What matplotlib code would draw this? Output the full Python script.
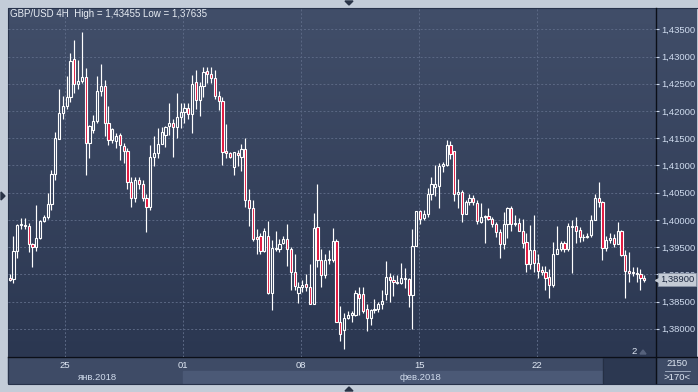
import numpy as np
import matplotlib.pyplot as plt
from matplotlib.patches import Rectangle, Polygon
from matplotlib.colors import LinearSegmentedColormap
from matplotlib.transforms import blended_transform_factory

plt.rcParams['font.family'] = ['Liberation Sans', 'DejaVu Sans']

# свечи GBP/USD 4H (открытие, максимум, минимум, закрытие)
opens = [1.3893, 1.3892, 1.3942, 1.3990, 1.3989, 1.3988, 1.3955, 1.3950, 1.3966, 1.3997,
         1.4005, 1.4029, 1.4084, 1.4148, 1.4197, 1.4209, 1.4225, 1.4295, 1.4250, 1.4255,
         1.4262, 1.4142, 1.4165, 1.4181, 1.4237, 1.4245, 1.4177, 1.4146, 1.4145, 1.4155,
         1.4136, 1.4126, 1.4070, 1.4041, 1.4074, 1.4065, 1.4041, 1.4024, 1.4115, 1.4122,
         1.4140, 1.4156, 1.4172, 1.4177, 1.4171, 1.4188, 1.4198, 1.4205, 1.4194, 1.4254,
         1.4221, 1.4246, 1.4273, 1.4267, 1.4260, 1.4228, 1.4218, 1.4126, 1.4123, 1.4097,
         1.4123, 1.4116, 1.4131, 1.4037, 1.4021, 1.3969, 1.3970, 1.3942, 1.3971, 1.3865,
         1.3946, 1.3946, 1.3957, 1.3965, 1.3946, 1.3904, 1.3865, 1.3876, 1.3882, 1.3876,
         1.3846, 1.3986, 1.3926, 1.3898, 1.3926, 1.3926, 1.3962, 1.3812, 1.3798, 1.3819,
         1.3826, 1.3826, 1.3864, 1.3864, 1.3836, 1.3819, 1.3834, 1.3836, 1.3846, 1.3864,
         1.3895, 1.3890, 1.3884, 1.3884, 1.3892, 1.3892, 1.3862, 1.3952, 1.4016, 1.4004,
         1.4010, 1.4048, 1.4060, 1.4062, 1.4098, 1.4101, 1.4137, 1.4126, 1.4048, 1.4052,
         1.4011, 1.4033, 1.4041, 1.4031, 1.3996, 1.4006, 1.4007, 1.4001, 1.3993, 1.3977,
         1.3956, 1.3993, 1.4021, 1.3992, 1.3995, 1.3980, 1.3960, 1.3918, 1.3944, 1.3920,
         1.3907, 1.3904, 1.3895, 1.3881, 1.3938, 1.3946, 1.3957, 1.3946, 1.3987, 1.3989,
         1.3981, 1.3968, 1.3969, 1.3972, 1.4000, 1.4041, 1.4032, 1.3948, 1.3963, 1.3967,
         1.3956, 1.3979, 1.3936, 1.3906, 1.3904, 1.3902, 1.3901, 1.3894]
highs = [1.3900, 1.3971, 1.3993, 1.4004, 1.4004, 1.3995, 1.3957, 1.4028, 1.4000, 1.4009,
         1.4049, 1.4091, 1.4162, 1.4241, 1.4227, 1.4264, 1.4306, 1.4330, 1.4294, 1.43455,
         1.4278, 1.4175, 1.4192, 1.4264, 1.4287, 1.4256, 1.4209, 1.4168, 1.4159, 1.4159,
         1.4141, 1.4132, 1.4079, 1.4079, 1.4079, 1.4074, 1.4047, 1.4137, 1.4154, 1.4168,
         1.4170, 1.4172, 1.4214, 1.4186, 1.4233, 1.4214, 1.4214, 1.4214, 1.4266, 1.4275,
         1.4254, 1.4280, 1.4280, 1.4280, 1.4275, 1.4237, 1.4226, 1.4176, 1.4125, 1.4125,
         1.4128, 1.4140, 1.4150, 1.4056, 1.4037, 1.3984, 1.3975, 1.3985, 1.3998, 1.3963,
         1.3980, 1.3965, 1.3971, 1.3993, 1.3951, 1.3938, 1.3885, 1.3890, 1.3900, 1.3918,
         1.4012, 1.4066, 1.3946, 1.3937, 1.3944, 1.3985, 1.3964, 1.3841, 1.3829, 1.3833,
         1.3833, 1.3872, 1.3877, 1.3877, 1.3846, 1.3837, 1.3854, 1.3849, 1.3872, 1.3925,
         1.3903, 1.3898, 1.3898, 1.3921, 1.3912, 1.3894, 1.3984, 1.4017, 1.4019, 1.4019,
         1.4059, 1.4078, 1.4100, 1.4105, 1.4107, 1.4147, 1.4145, 1.4127, 1.4075, 1.4054,
         1.4037, 1.4047, 1.4046, 1.4036, 1.4031, 1.4009, 1.4021, 1.4006, 1.3996, 1.3984,
         1.4015, 1.4024, 1.4025, 1.4009, 1.4004, 1.4001, 1.3975, 1.3991, 1.4008, 1.3938,
         1.3916, 1.3916, 1.3910, 1.3959, 1.3988, 1.3962, 1.3961, 1.3994, 1.4000, 1.4005,
         1.3987, 1.3974, 1.3975, 1.4008, 1.4048, 1.4069, 1.4035, 1.3971, 1.3975, 1.3974,
         1.3996, 1.3982, 1.3944, 1.3941, 1.3914, 1.3914, 1.3910, 1.3898]
lows = [1.3888, 1.3884, 1.3930, 1.3983, 1.3983, 1.3941, 1.3914, 1.3943, 1.3964, 1.3996,
        1.4001, 1.4018, 1.4073, 1.4148, 1.4186, 1.4203, 1.4216, 1.4233, 1.4240, 1.4252,
        1.4082, 1.4113, 1.4160, 1.4178, 1.4228, 1.4154, 1.4137, 1.4141, 1.4132, 1.4110,
        1.4104, 1.4056, 1.4024, 1.4033, 1.4057, 1.4034, 1.3977, 1.4019, 1.4098, 1.4114,
        1.4140, 1.4134, 1.4156, 1.4115, 1.4151, 1.4168, 1.4177, 1.4186, 1.4159, 1.4203,
        1.4190, 1.4225, 1.4252, 1.4252, 1.4222, 1.4202, 1.4101, 1.4113, 1.4113, 1.4083,
        1.4098, 1.4089, 1.4024, 1.3988, 1.3961, 1.3938, 1.3938, 1.3941, 1.3864, 1.3834,
        1.3942, 1.3941, 1.3955, 1.3916, 1.3871, 1.3871, 1.3847, 1.3867, 1.3869, 1.3845,
        1.3845, 1.3913, 1.3876, 1.3894, 1.3918, 1.3922, 1.3812, 1.3778, 1.37635, 1.3818,
        1.3812, 1.3823, 1.3825, 1.3829, 1.3795, 1.3807, 1.3829, 1.3830, 1.3837, 1.3853,
        1.3850, 1.3861, 1.3883, 1.3882, 1.3874, 1.3840, 1.3799, 1.3952, 1.3993, 1.3999,
        1.4006, 1.4036, 1.4043, 1.4021, 1.4087, 1.4098, 1.4111, 1.4034, 1.4021, 1.3996,
        1.4010, 1.4028, 1.4028, 1.3993, 1.3994, 1.3957, 1.3999, 1.3987, 1.3968, 1.3930,
        1.3946, 1.3966, 1.3980, 1.3989, 1.3979, 1.3948, 1.3905, 1.3909, 1.3905, 1.3894,
        1.3898, 1.3871, 1.3856, 1.3876, 1.3937, 1.3943, 1.3941, 1.3943, 1.3902, 1.3958,
        1.3960, 1.3961, 1.3966, 1.3969, 1.3999, 1.4023, 1.3926, 1.3942, 1.3957, 1.3950,
        1.3955, 1.3933, 1.3857, 1.3885, 1.3896, 1.3885, 1.3871, 1.3886]
closes = [1.3890, 1.3942, 1.3990, 1.3992, 1.3990, 1.3955, 1.3950, 1.3966, 1.3997, 1.4005,
          1.4029, 1.4084, 1.4150, 1.4197, 1.4209, 1.4225, 1.4292, 1.4250, 1.4255, 1.4262,
          1.4142, 1.4173, 1.4181, 1.4237, 1.4245, 1.4177, 1.4146, 1.4166, 1.4154, 1.4137,
          1.4126, 1.4070, 1.4041, 1.4074, 1.4065, 1.4041, 1.4024, 1.4115, 1.4122, 1.4140,
          1.4162, 1.4171, 1.4177, 1.4171, 1.4188, 1.4198, 1.4205, 1.4194, 1.4249, 1.4221,
          1.4246, 1.4272, 1.4267, 1.4260, 1.4228, 1.4218, 1.4125, 1.4123, 1.4115, 1.4124,
          1.4119, 1.4131, 1.4037, 1.4021, 1.3964, 1.3964, 1.3942, 1.3979, 1.3865, 1.3948,
          1.3948, 1.3956, 1.3965, 1.3946, 1.3904, 1.3879, 1.3876, 1.3881, 1.3876, 1.3846,
          1.3985, 1.3926, 1.3898, 1.3926, 1.3928, 1.3962, 1.3812, 1.3791, 1.3819, 1.3825,
          1.3828, 1.3865, 1.3856, 1.3833, 1.3819, 1.3834, 1.3837, 1.3846, 1.3851, 1.3895,
          1.3890, 1.3885, 1.3886, 1.3894, 1.3894, 1.3862, 1.3952, 1.4016, 1.4002, 1.4011,
          1.4048, 1.4065, 1.4065, 1.4099, 1.4103, 1.4137, 1.4121, 1.4048, 1.4052, 1.4011,
          1.4032, 1.4041, 1.4032, 1.3997, 1.4006, 1.4007, 1.4001, 1.3992, 1.3977, 1.3956,
          1.3993, 1.4021, 1.3992, 1.3995, 1.3980, 1.3958, 1.3918, 1.3944, 1.3920, 1.3906,
          1.3904, 1.3894, 1.3881, 1.3938, 1.3947, 1.3957, 1.3946, 1.3988, 1.3989, 1.3980,
          1.3968, 1.3969, 1.3970, 1.4000, 1.4041, 1.4032, 1.3948, 1.3963, 1.3967, 1.3956,
          1.3979, 1.3935, 1.3906, 1.3903, 1.3902, 1.3901, 1.3894, 1.3890]

day_labels = ['25', '01', '08', '15', '22']
day_pos = [14.6, 45.7, 76.7, 107.8, 138.8]   # начало дня в номерах свечей
month_labels = ['янв.2018', 'фев.2018']
price_ticks = np.arange(1.380, 1.43501, 0.005)

W, H = 698, 392
fig = plt.figure(figsize=(W / 100, H / 100), dpi=100)
fig.patch.set_facecolor('#c3ccd8')

# фон и рамки в пикселях
bg = fig.add_axes([0, 0, 1, 1], zorder=0)
cmap = LinearSegmentedColormap.from_list('bg', ['#414e69', '#2b3751'])
bg.imshow(np.linspace(0, 1, 256).reshape(-1, 1), cmap=cmap,
          extent=(8, 697, 357, 8), aspect='auto')
bg.add_patch(Rectangle((8, 357), 689, 26, color='#3e4b66'))
bg.add_patch(Rectangle((183, 370.5), 420, 12.5, color='#4b5976'))
bg.add_patch(Rectangle((603, 357), 52.5, 26, color='#2c3851'))
bg.plot([602.5, 602.5], [359, 383], color='#252f44', lw=0.8)
bg.plot([8, 697], [357, 357], color='#0b0f18', lw=1)
bg.plot([655.5, 655.5], [8, 383], color='#0b0f18', lw=1)
bg.add_patch(Rectangle((7.5, 7.5), 690, 376, fill=False, ec='#27324a', lw=0.8))
bg.plot([665, 690], [371, 371], color='#aab6ca', lw=0.6)
bg.text(677, 364, '2150', color='#dfe7f3', fontsize=6.8, ha='center', va='center')
bg.text(677, 377.5, '>170<', color='#dfe7f3', fontsize=6.8, ha='center', va='center')
bg.text(634, 351, '2', color='#dfe7f3', fontsize=6.8, ha='center', va='center')
bg.add_patch(Polygon([(640, 354), (646, 354), (643, 350)], color='#56627c'))
bg.add_patch(Polygon([(345, 1), (353, 1), (349, 5)], color='#2a3447'))
bg.add_patch(Polygon([(345, 391), (353, 391), (349, 387)], color='#2a3447'))
bg.add_patch(Polygon([(1, 192), (1, 200), (5, 196)], color='#2a3447'))
bg.text(98, 377, month_labels[0], color='#d0dbec', fontsize=6.8, ha='center', va='center')
bg.text(420, 377, month_labels[1], color='#d0dbec', fontsize=6.8, ha='center', va='center')
title = 'GBP/USD 4H  High = %s Low = %s' % (f'{max(highs):.5f}'.replace('.', ','),
                                             f'{min(lows):.5f}'.replace('.', ','))
bg.text(10, 14, title, color='#e8edf4', fontsize=7, ha='left', va='center')
bg.set_xlim(0, W)
bg.set_ylim(H, 0)
bg.axis('off')

# график свечей
ax = fig.add_axes([8 / W, 35 / H, 647.5 / W, 349 / H], zorder=1)
ax.patch.set_alpha(0)
for s in ax.spines.values():
    s.set_visible(False)

w = 0.58
for i, (o, h, l, c) in enumerate(zip(opens, highs, lows, closes)):
    lo, hi = min(o, c), max(o, c)
    if hi - lo < 0.00006:
        hi = lo + 0.00006
    ax.vlines(i, hi, h, color='white', lw=0.85, zorder=3)
    ax.vlines(i, l, lo, color='white', lw=0.85, zorder=3)
    ax.add_patch(Rectangle((i - w / 2, lo), w, hi - lo,
                           facecolor='#e0113a' if c < o else 'none',
                           edgecolor='white', lw=0.8, zorder=4))

ax.set_xlim(-0.447, 169.95)
ax.set_ylim(1.37481, 1.43891)
ax.set_yticks(price_ticks, [f'{v:.5f}'.replace('.', ',') for v in price_ticks])
ax.set_xticks(day_pos, day_labels)
ax.yaxis.tick_right()
ax.grid(True, color='#5b6884', linestyle=(0, (2, 2)), linewidth=0.7)
ax.tick_params(axis='y', length=2, colors='#d0dcef', labelsize=6.8, pad=2)
ax.tick_params(axis='x', length=0, colors='#dfe7f3', labelsize=6.8, pad=3)

# метка текущей цены поверх подписи оси
tr = blended_transform_factory(ax.transAxes, ax.transData)
ax.text(1.0333, closes[-1], f'{closes[-1]:.5f}'.replace('.', ','), transform=tr,
        ha='center', va='center', fontsize=6.8, color='#1d2940', zorder=6,
        bbox=dict(boxstyle='square,pad=0.2', fc='#c4cbd5', ec='#8d97a8', lw=0.5))
ax.plot([1.004], [closes[-1]], marker='<', ms=4, color='#c4cbd5', transform=tr,
        clip_on=False, zorder=6)

plt.savefig('out.png', dpi=100, facecolor=fig.get_facecolor())
